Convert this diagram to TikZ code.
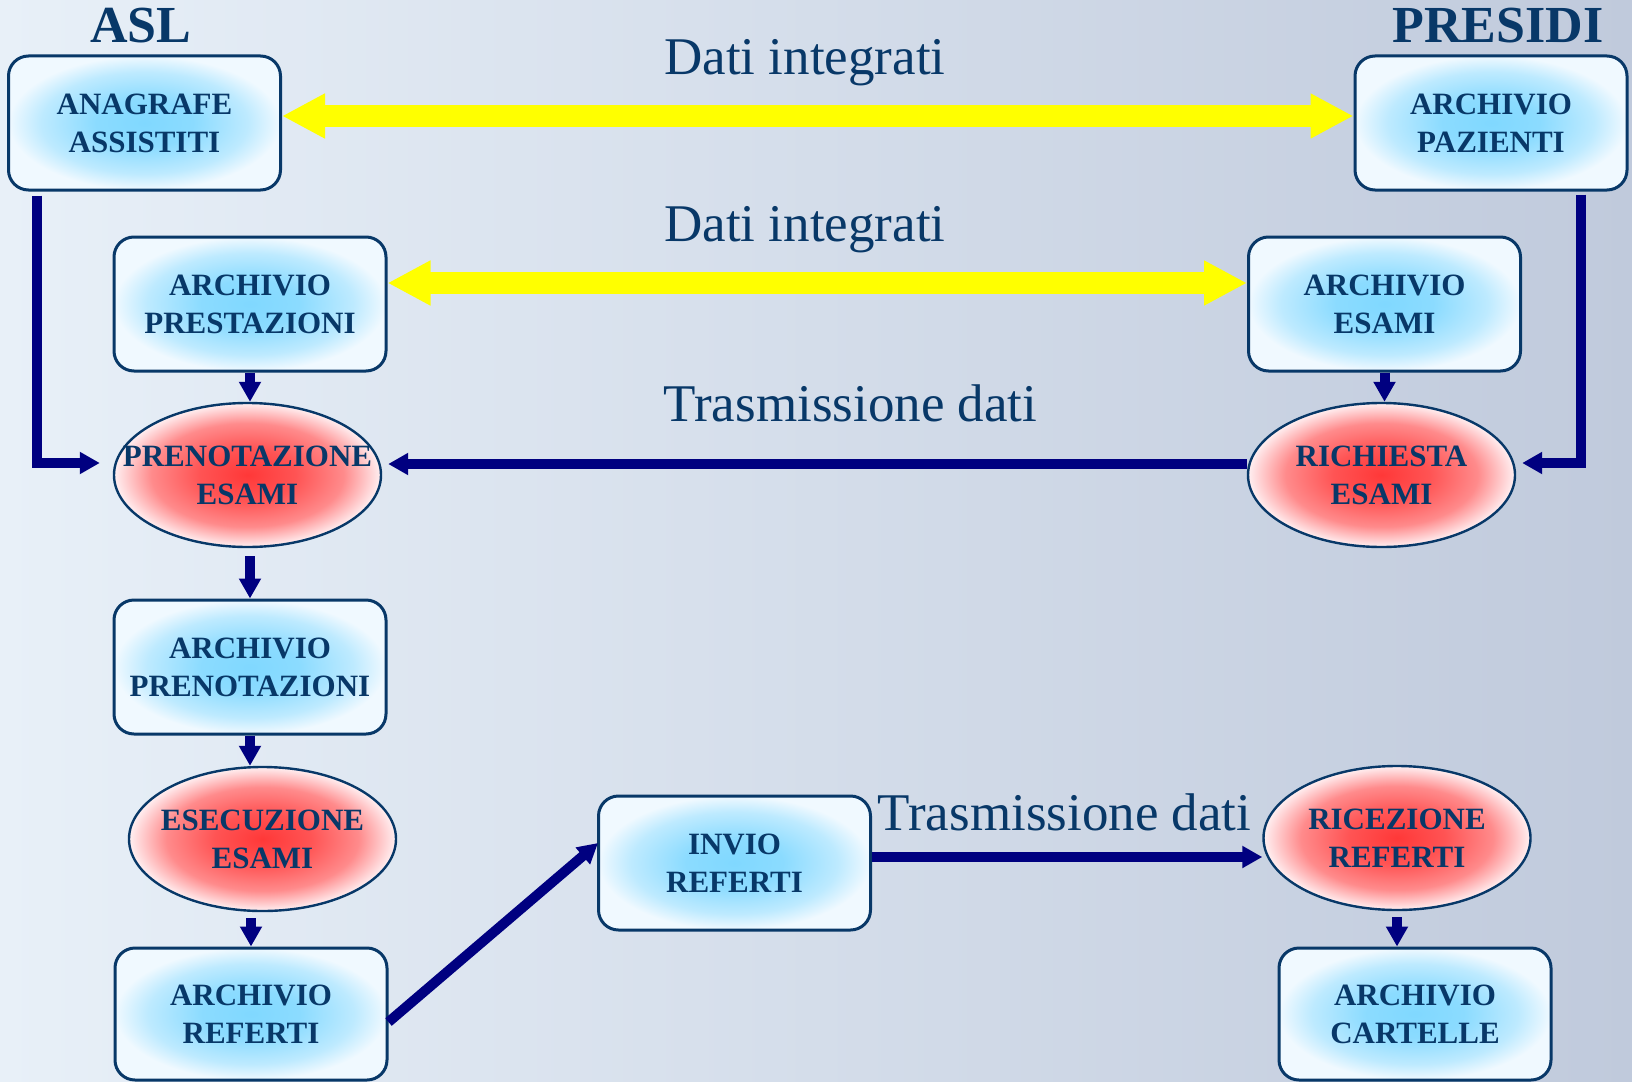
\documentclass[tikz,border=0pt]{standalone}
\usepackage{fontspec}
\setmainfont{Liberation Serif}
\usetikzlibrary{arrows.meta,shapes.geometric}

\definecolor{navyline}{RGB}{0,0,128}
\definecolor{textblue}{RGB}{8,56,104}
\definecolor{boxcyan}{RGB}{128,216,255}
\definecolor{boxwhite}{RGB}{240,249,255}
\definecolor{ovalred}{RGB}{255,56,56}
\definecolor{ovalwhite}{RGB}{255,240,242}
\definecolor{shareyellow}{RGB}{255,255,0}
\definecolor{bgleft}{RGB}{232,240,248}
\definecolor{bgright}{RGB}{192,202,220}

\pgfdeclareradialshading{boxglow}{\pgfpoint{0bp}{0bp}}{color(0bp)=(boxcyan);
    color(9bp)=(boxcyan!90!boxwhite); color(19bp)=(boxcyan!45!boxwhite);
    color(25bp)=(boxwhite); color(50bp)=(boxwhite)}
\pgfdeclareradialshading{ovalglow}{\pgfpoint{0bp}{0bp}}{color(0bp)=(ovalred);
    color(9bp)=(ovalred!85!ovalwhite); color(18bp)=(ovalred!55!ovalwhite);
    color(25bp)=(ovalwhite); color(50bp)=(ovalwhite)}

\begin{document}
\begin{tikzpicture}[x=0.5pt, y=-0.5pt,
    archbox/.style={draw=textblue, line width=1.5pt, rounded corners=10pt,
        shade, shading=boxglow, inner sep=2pt,
        minimum width=136pt, minimum height=67pt, align=center,
        text=textblue, font=\fontsize{15.5}{19}\selectfont\bfseries},
    oval/.style={ellipse, draw=textblue, line width=1.2pt,
        shade, shading=ovalglow, inner xsep=-25pt, inner ysep=0pt,
        minimum width=133.5pt, minimum height=72pt, align=center,
        text=textblue, font=\fontsize{15.5}{19}\selectfont\bfseries},
    tag/.style={text=textblue, font=\fontsize{26.5}{30}\selectfont, anchor=base},
    side/.style={text=textblue, font=\fontsize{26}{30}\selectfont\bfseries, anchor=base},
    flow/.style={draw=navyline, line width=5pt, -{Triangle[width=10.5pt,length=10pt]}},
    share/.style={draw=shareyellow, line width=11pt,
        {Triangle[width=21pt,length=21.5pt]}-{Triangle[width=21pt,length=21.5pt]}}]

    % background
    \shade[left color=bgleft, right color=bgright] (0,0) rectangle (1632,1081);
    \useasboundingbox (0,0) rectangle (1632,1081);

    % --- ASL / PRESIDI ---
    \node[side] (asl) at (141,43) {ASL};
    \node[side] (presidi) at (1498,43) {PRESIDI};

    % --- archives and steps ---
    \node[archbox] (anag) at (144.5,123) {ANAGRAFE\\ASSISTITI};
    \node[archbox] (pazienti) at (1491,123) {ARCHIVIO\\PAZIENTI};
    \node[archbox] (prestaz) at (250,304) {ARCHIVIO\\PRESTAZIONI};
    \node[archbox] (esami) at (1384.5,304) {ARCHIVIO\\ESAMI};
    \node[oval] (preno) at (247.5,475) {PRENOTAZIONE\\ESAMI};
    \node[oval] (richiesta) at (1381.5,475) {RICHIESTA\\ESAMI};
    \node[archbox] (archpreno) at (250,667) {ARCHIVIO\\PRENOTAZIONI};
    \node[oval] (esecuz) at (262.5,839) {ESECUZIONE\\ESAMI};
    \node[archbox, minimum height=66pt] (archref) at (251,1014) {ARCHIVIO\\REFERTI};
    \node[archbox] (invio) at (734.5,863) {INVIO\\REFERTI};
    \node[oval] (ricez) at (1397,838) {RICEZIONE\\REFERTI};
    \node[archbox, minimum height=66pt] (cartelle) at (1415,1014) {ARCHIVIO\\CARTELLE};

    % --- labels ---
    \node[tag] (dati1) at (805,75) {Dati integrati};
    \node[tag] (dati2) at (805,241.5) {Dati integrati};
    \node[tag] (trasm1) at (850.5,421.5) {Trasmissione dati};
    \node[tag] (trasm2) at (1064.5,830) {Trasmissione dati};

    % --- data exchange ---
    \draw[share] ([yshift=3.5pt]anag.east) -- ([yshift=3.5pt]pazienti.west);
    \draw[share] ([yshift=10.5pt]prestaz.east) -- ([yshift=10.5pt]esami.west);

    % --- flow ---
    \draw[flow] ([shift={(30,4)}]anag.south west) |- ([shift={(-13,-12)}]preno.west);
    \draw[flow] ([shift={(-48,3)}]pazienti.south east) |- ([shift={(6,-12)}]richiesta.east);
    \draw[flow] ([yshift=5.5pt]richiesta.west) -- ([shift={(6,-11)}]preno.east);
    \draw[flow] (prestaz.south) -- (prestaz.south |- preno.north);
    \draw[flow] (esami.south) -- (esami.south |- richiesta.north);
    \draw[flow, shorten <=4pt] (preno.south -| archpreno.north) -- (archpreno.north);
    \draw[flow] (archpreno.south) -- (archpreno.south |- esecuz.north);
    \draw[flow, shorten <=3pt] (esecuz.south -| archref.north) -- (archref.north);
    \draw[flow] ([yshift=-4pt]archref.east) -- ([shift={(1,-20)}]invio.west);
    \draw[flow] ([yshift=3pt]invio.east) -- ([yshift=-9.5pt]ricez.west);
    \draw[flow, shorten <=3pt] (ricez.south) -- (ricez.south |- cartelle.north);
\end{tikzpicture}
\end{document}
